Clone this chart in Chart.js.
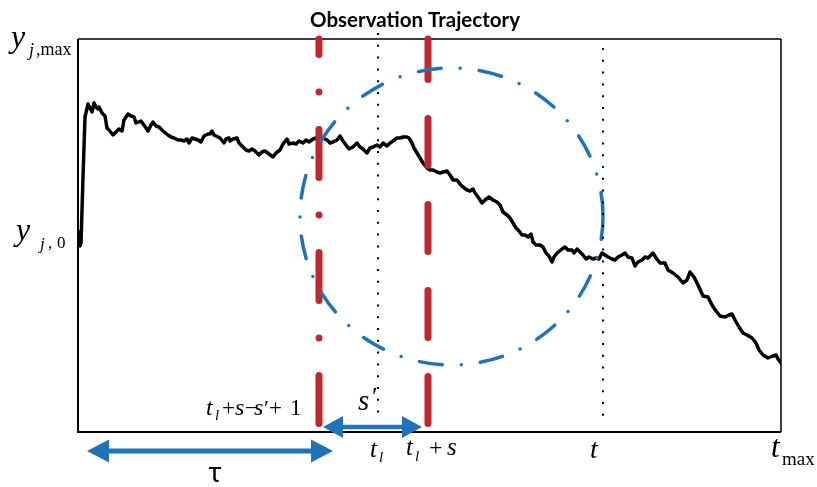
<!DOCTYPE html>
<html>
<head>
<meta charset="utf-8">
<title>Observation Trajectory</title>
<script src="https://cdn.jsdelivr.net/npm/chart.js@4.4.0/dist/chart.umd.min.js"></script>
<style>
  html, body { margin: 0; padding: 0; background: #fff; }
  #wrap { width: 817px; height: 487px; }
</style>
</head>
<body>
<div id="wrap"><canvas id="traj" width="817" height="487"></canvas></div>
<script>
// observation trajectory y_j over time (time steps, value units)
const trajT = [1, 2, 3, 5, 7, 10, 12, 14, 16, 18, 20, 21, 24, 27, 29, 31, 35, 38, 41, 44, 46, 50, 53, 56, 58, 63, 66, 70, 73, 75, 78, 81, 85, 90, 93, 96, 100, 103, 106, 109, 111, 114, 117, 120, 123, 126, 130, 132, 134, 136, 140, 142, 146, 148, 151, 152, 155, 159, 161, 165, 168, 171, 174, 177, 181, 184, 187, 191, 195, 198, 202, 205, 209, 211, 215, 218, 221, 225, 228, 231, 235, 238, 241, 245, 249, 252, 255, 259, 262, 265, 268, 271, 275, 279, 282, 285, 289, 292, 295, 299, 302, 305, 309, 312, 315, 319, 322, 325, 329, 331, 334, 336, 339, 342, 345, 349, 352, 355, 359, 362, 365, 369, 372, 375, 379, 382, 385, 389, 392, 395, 397, 400, 404, 407, 411, 415, 419, 422, 425, 429, 432, 435, 438, 441, 444, 447, 450, 453, 455, 458, 462, 465, 468, 471, 474, 476, 479, 484, 487, 490, 494, 496, 499, 502, 505, 508, 511, 515, 518, 521, 524, 527, 530, 534, 537, 540, 544, 547, 550, 554, 557, 560, 564, 567, 570, 575, 578, 582, 587, 590, 595, 600, 605, 609, 612, 616, 620, 625, 630, 634, 638, 642, 647, 651, 654, 657, 661, 665, 669, 674, 678, 681, 685, 690, 695, 698, 700, 703];
const trajY = [200, 186, 189, 255, 315, 328, 324, 320, 329, 325, 323, 325, 319, 316, 304, 302, 297, 300, 303, 301, 312, 318, 316, 315, 309, 311, 307, 301, 307, 310, 306, 305, 301, 297, 295, 294, 292, 292, 291, 293, 289, 294, 293, 292, 290, 296, 298, 298, 301, 297, 295, 294, 289, 293, 294, 291, 293, 294, 289, 285, 282, 281, 283, 281, 277, 280, 281, 278, 275, 279, 282, 288, 293, 288, 289, 288, 291, 289, 292, 290, 293, 294, 291, 294, 292, 289, 290, 292, 296, 291, 287, 283, 285, 289, 285, 283, 279, 284, 285, 287, 285, 289, 286, 289, 291, 294, 294, 295, 295, 294, 289, 284, 279, 274, 269, 264, 262, 262, 260, 259, 260, 261, 257, 252, 252, 248, 245, 242, 241, 243, 239, 235, 229, 232, 235, 232, 230, 227, 220, 217, 214, 209, 204, 201, 197, 197, 195, 198, 190, 187, 187, 185, 179, 176, 170, 175, 179, 183, 185, 182, 182, 179, 183, 180, 177, 173, 175, 173, 174, 173, 179, 177, 175, 173, 172, 175, 177, 179, 175, 174, 166, 170, 172, 175, 174, 179, 174, 169, 169, 162, 159, 155, 149, 152, 160, 155, 147, 136, 135, 127, 121, 116, 115, 117, 118, 112, 105, 99, 97, 94, 89, 82, 77, 74, 76, 77, 73, 69];

// axis extents
const tMax = 703;
const yMax = 393;
const y0 = 193;

// key instants on the time axis
const tWinStart = 241;   // t_l + s - s' + 1
const tL = 300;          // t_l
const tWinEnd = 350;     // t_l + s
const tNow = 525;        // t

// neighbourhood circle (centre and radii in data units)
const circleCenter = [373.5, 215.5];
const circleRadius = [151.5, 148.5];

const RED = '#c3262d';
const BLUE = '#1f73bb';
const SERIF = '"Liberation Serif", "DejaVu Serif", serif';

function put(ctx, s, x, y, font, align) {
    ctx.font = font;
    ctx.textAlign = align || 'left';
    ctx.fillText(s, x, y);
}

function doubleArrow(ctx, x1, x2, y, head, half, shaft) {
    ctx.save();
    ctx.fillStyle = BLUE;
    ctx.fillRect(x1 + head - 1, y - shaft / 2, (x2 - x1) - 2 * head + 2, shaft);
    ctx.beginPath();
    ctx.moveTo(x1, y); ctx.lineTo(x1 + head, y - half); ctx.lineTo(x1 + head, y + half);
    ctx.closePath(); ctx.fill();
    ctx.beginPath();
    ctx.moveTo(x2, y); ctx.lineTo(x2 - head, y - half); ctx.lineTo(x2 - head, y + half);
    ctx.closePath(); ctx.fill();
    ctx.restore();
}

function vline(ctx, x, yTop, yBot, color, width, dash, cap) {
    ctx.save();
    ctx.strokeStyle = color;
    ctx.lineWidth = width;
    ctx.lineCap = cap;
    ctx.setLineDash(dash);
    ctx.beginPath();
    ctx.moveTo(x, yBot);
    ctx.lineTo(x, yTop);
    ctx.stroke();
    ctx.restore();
}

const schematic = {
    id: 'schematic',
    afterDatasetsDraw(chart) {
        const ctx = chart.ctx;
        const a = chart.chartArea;
        const xs = chart.scales.x, ys = chart.scales.y;
        const X = v => xs.getPixelForValue(v);
        const Y = v => ys.getPixelForValue(v);

        // frame
        ctx.save();
        ctx.strokeStyle = '#000';
        ctx.lineWidth = 1.5;
        ctx.beginPath();
        ctx.moveTo(a.left, a.top); ctx.lineTo(a.right, a.top);
        ctx.moveTo(a.right, a.top); ctx.lineTo(a.right, a.bottom);
        ctx.stroke();
        ctx.lineWidth = 2;
        ctx.beginPath();
        ctx.moveTo(a.left, a.top); ctx.lineTo(a.left, a.bottom); ctx.lineTo(a.right, a.bottom);
        ctx.stroke();
        ctx.restore();

        // window bounds
        vline(ctx, X(tWinStart), a.top, Y(8.5), RED, 7, [48, 37.5, 0, 37.5], 'round');
        vline(ctx, X(tWinEnd), a.top, Y(8.5), RED, 7, [47, 39], 'round');

        // neighbourhood circle
        ctx.save();
        ctx.strokeStyle = BLUE;
        ctx.lineWidth = 3.5;
        ctx.lineCap = 'round';
        ctx.setLineDash([23, 19.1, 0, 19.1]);
        ctx.beginPath();
        const cx = X(circleCenter[0]), cy = Y(circleCenter[1]);
        const rx = X(circleCenter[0] + circleRadius[0]) - cx;
        const ry = cy - Y(circleCenter[1] + circleRadius[1]);
        ctx.ellipse(cx, cy, rx, ry, 0, 0, Math.PI * 2);
        ctx.stroke();
        ctx.restore();

        // dotted time markers
        ctx.save();
        ctx.strokeStyle = '#000';
        ctx.lineWidth = 2;
        ctx.setLineDash([2, 9.8]);
        ctx.beginPath();
        ctx.moveTo(X(tL), Y(399)); ctx.lineTo(X(tL), Y(13));
        ctx.moveTo(X(tNow), Y(384)); ctx.lineTo(X(tNow), Y(10));
        ctx.stroke();
        ctx.restore();

        // span arrows
        doubleArrow(ctx, X(9), X(255), Y(-19), 22, 11.5, 5);
        doubleArrow(ctx, X(245), X(344), Y(5), 20, 11, 4.5);

        ctx.save();
        ctx.fillStyle = '#000';
        ctx.textBaseline = 'alphabetic';

        // y-axis labels
        let b = Y(yMax) + 8;
        put(ctx, 'y', 11, b, 'italic 32px ' + SERIF);
        put(ctx, 'j', 29, b + 9, 'italic 18px ' + SERIF);
        put(ctx, ',max', 36, b + 8, '18px ' + SERIF);
        b = Y(y0) + 1;
        put(ctx, 'y', 16, b, 'italic 32px ' + SERIF);
        put(ctx, 'j', 40, b + 9, 'italic 17px ' + SERIF);
        put(ctx, ',', 48, b + 8, '17px ' + SERIF);
        put(ctx, '0', 57, b + 8, '17px ' + SERIF);

        // t_l + s - s' + 1
        let x = X(tWinStart);
        b = Y(17);
        put(ctx, 't', x - 113, b, 'italic 24px ' + SERIF);
        put(ctx, 'l', x - 104, b + 5, 'italic 15px ' + SERIF);
        put(ctx, '+', x - 97, b, '23px ' + SERIF);
        put(ctx, 's', x - 84, b, 'italic 24px ' + SERIF);
        put(ctx, '\u2212', x - 74, b, '22px ' + SERIF);
        put(ctx, 's', x - 65, b, 'italic 24px ' + SERIF);
        put(ctx, '\u2032', x - 55, b, '22px ' + SERIF);
        put(ctx, '+', x - 50, b, '23px ' + SERIF);
        put(ctx, '1', x - 29, b, '23px ' + SERIF);

        // s'
        put(ctx, 's', x + 39, Y(22), 'italic 29px ' + SERIF);
        put(ctx, '\u2032', x + 53, Y(27), '26px ' + SERIF);

        // time axis labels
        b = a.bottom + 25;
        x = X(tL);
        put(ctx, 't', x - 8, b, 'italic 25px ' + SERIF);
        put(ctx, 'l', x + 1, b + 5, 'italic 15px ' + SERIF);
        x = X(tWinEnd);
        put(ctx, 't', x - 22, b - 2, 'italic 25px ' + SERIF);
        put(ctx, 'l', x - 13, b + 4, 'italic 15px ' + SERIF);
        put(ctx, '+', x + 1, b - 2, '24px ' + SERIF);
        put(ctx, 's', x + 19, b - 2, 'italic 25px ' + SERIF);
        x = X(tNow);
        put(ctx, 't', x - 13, b + 1, 'italic 28px ' + SERIF);
        x = X(tMax);
        put(ctx, 't', x - 10, b, 'italic 31px ' + SERIF);
        put(ctx, 'max', x + 1, b + 8, '19px ' + SERIF);

        // window length
        put(ctx, '\u03c4', (X(9) + X(255)) / 2 + 5, a.bottom + 50, '28px Lato, "Noto Sans", sans-serif', 'center');

        // title
        put(ctx, 'Observation Trajectory', 415, 27, 'bold 20.5px Lato, "Noto Sans", sans-serif', 'center');
        ctx.restore();
    }
};

new Chart(document.getElementById('traj'), {
    type: 'line',
    data: {
        datasets: [{
            data: trajT.map((t, i) => ({ x: t, y: trajY[i] })),
            borderColor: '#000',
            borderWidth: 3.5,
            pointRadius: 0,
            tension: 0,
            borderJoinStyle: 'round',
            borderCapStyle: 'round',
            fill: false
        }]
    },
    options: {
        responsive: false,
        devicePixelRatio: 1,
        animation: false,
        layout: { padding: { left: 78, top: 39, right: 36, bottom: 55 } },
        plugins: { legend: { display: false }, tooltip: { enabled: false }, title: { display: false } },
        scales: {
            x: { type: 'linear', min: 0, max: tMax, display: false },
            y: { type: 'linear', min: 0, max: yMax, display: false }
        }
    },
    plugins: [schematic]
});
</script>
</body>
</html>
